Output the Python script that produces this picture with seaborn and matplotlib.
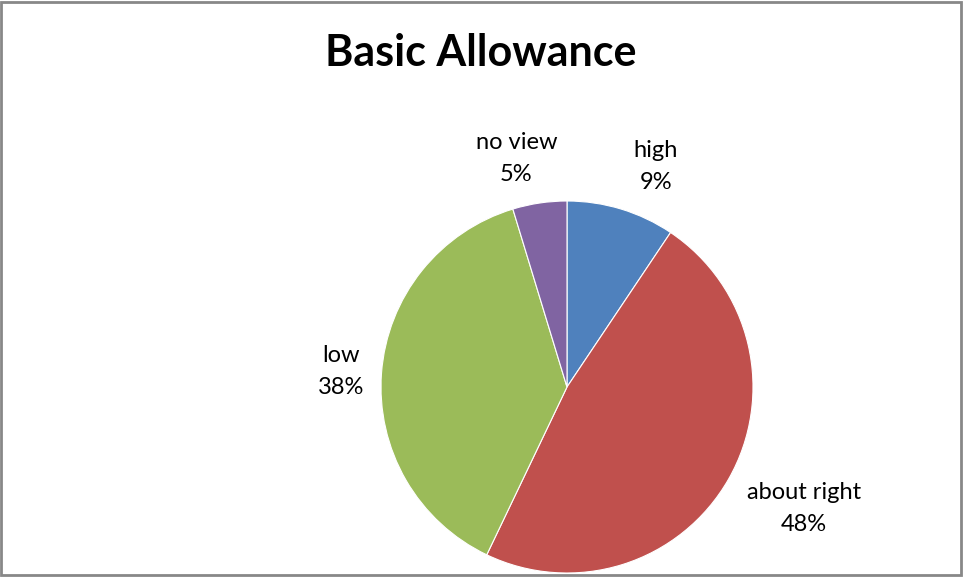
import numpy as np
import matplotlib
matplotlib.use("Agg")
import matplotlib.pyplot as plt
from matplotlib.patches import Rectangle
import seaborn as sns

categories = ["high", "about right", "low", "no view"]
values = [9.4, 47.7, 38.2, 4.7]
colors = ["#4F81BD", "#C0504D", "#9BBB59", "#8064A2"]
title = "Basic Allowance"

# label placement (radial distance, angle offset in degrees) -- style only
label_dist = [1.28, 1.43, 1.22, 1.26]
label_dang = [-5.0, 2.5, 0.3, 4.0]

sns.set_theme(style="white")
plt.rcParams['font.family'] = ['Lato', 'DejaVu Sans']

fig = plt.figure(figsize=(9.63, 5.78), dpi=100)
W, H = 963, 578
cx, cy, r = 567, 387, 186
ax = fig.add_axes([(cx - r) / W, (H - cy - r) / H, 2 * r / W, 2 * r / H])

pal = sns.color_palette(colors)
wedges, _ = ax.pie(values, colors=pal, startangle=90, counterclock=False,
                   radius=1, wedgeprops=dict(edgecolor="white", linewidth=0.8))
ax.set_xlim(-1, 1)
ax.set_ylim(-1, 1)
ax.set_aspect("equal")
ax.axis("off")

total = sum(values)
for w, cat, v, d, da in zip(wedges, categories, values, label_dist, label_dang):
    ang = np.deg2rad((w.theta1 + w.theta2) / 2 + da)
    x, y = d * np.cos(ang), d * np.sin(ang)
    pct = round(100 * v / total)
    ax.text(x, y, f"{cat}\n{pct}%", ha="center", va="center", fontsize=17,
            color="black", linespacing=1.65, clip_on=False)

fig.text(481 / W, 1 - 53 / H, title, ha="center", va="center",
         fontsize=31, fontweight="bold", color="black")

fig.patches.append(Rectangle((1 / W, 3 / H), (W - 3) / W, (H - 5) / H,
                             transform=fig.transFigure, fill=False,
                             edgecolor="#888888", linewidth=2))

fig.savefig("out.png", dpi=100, facecolor="white")
